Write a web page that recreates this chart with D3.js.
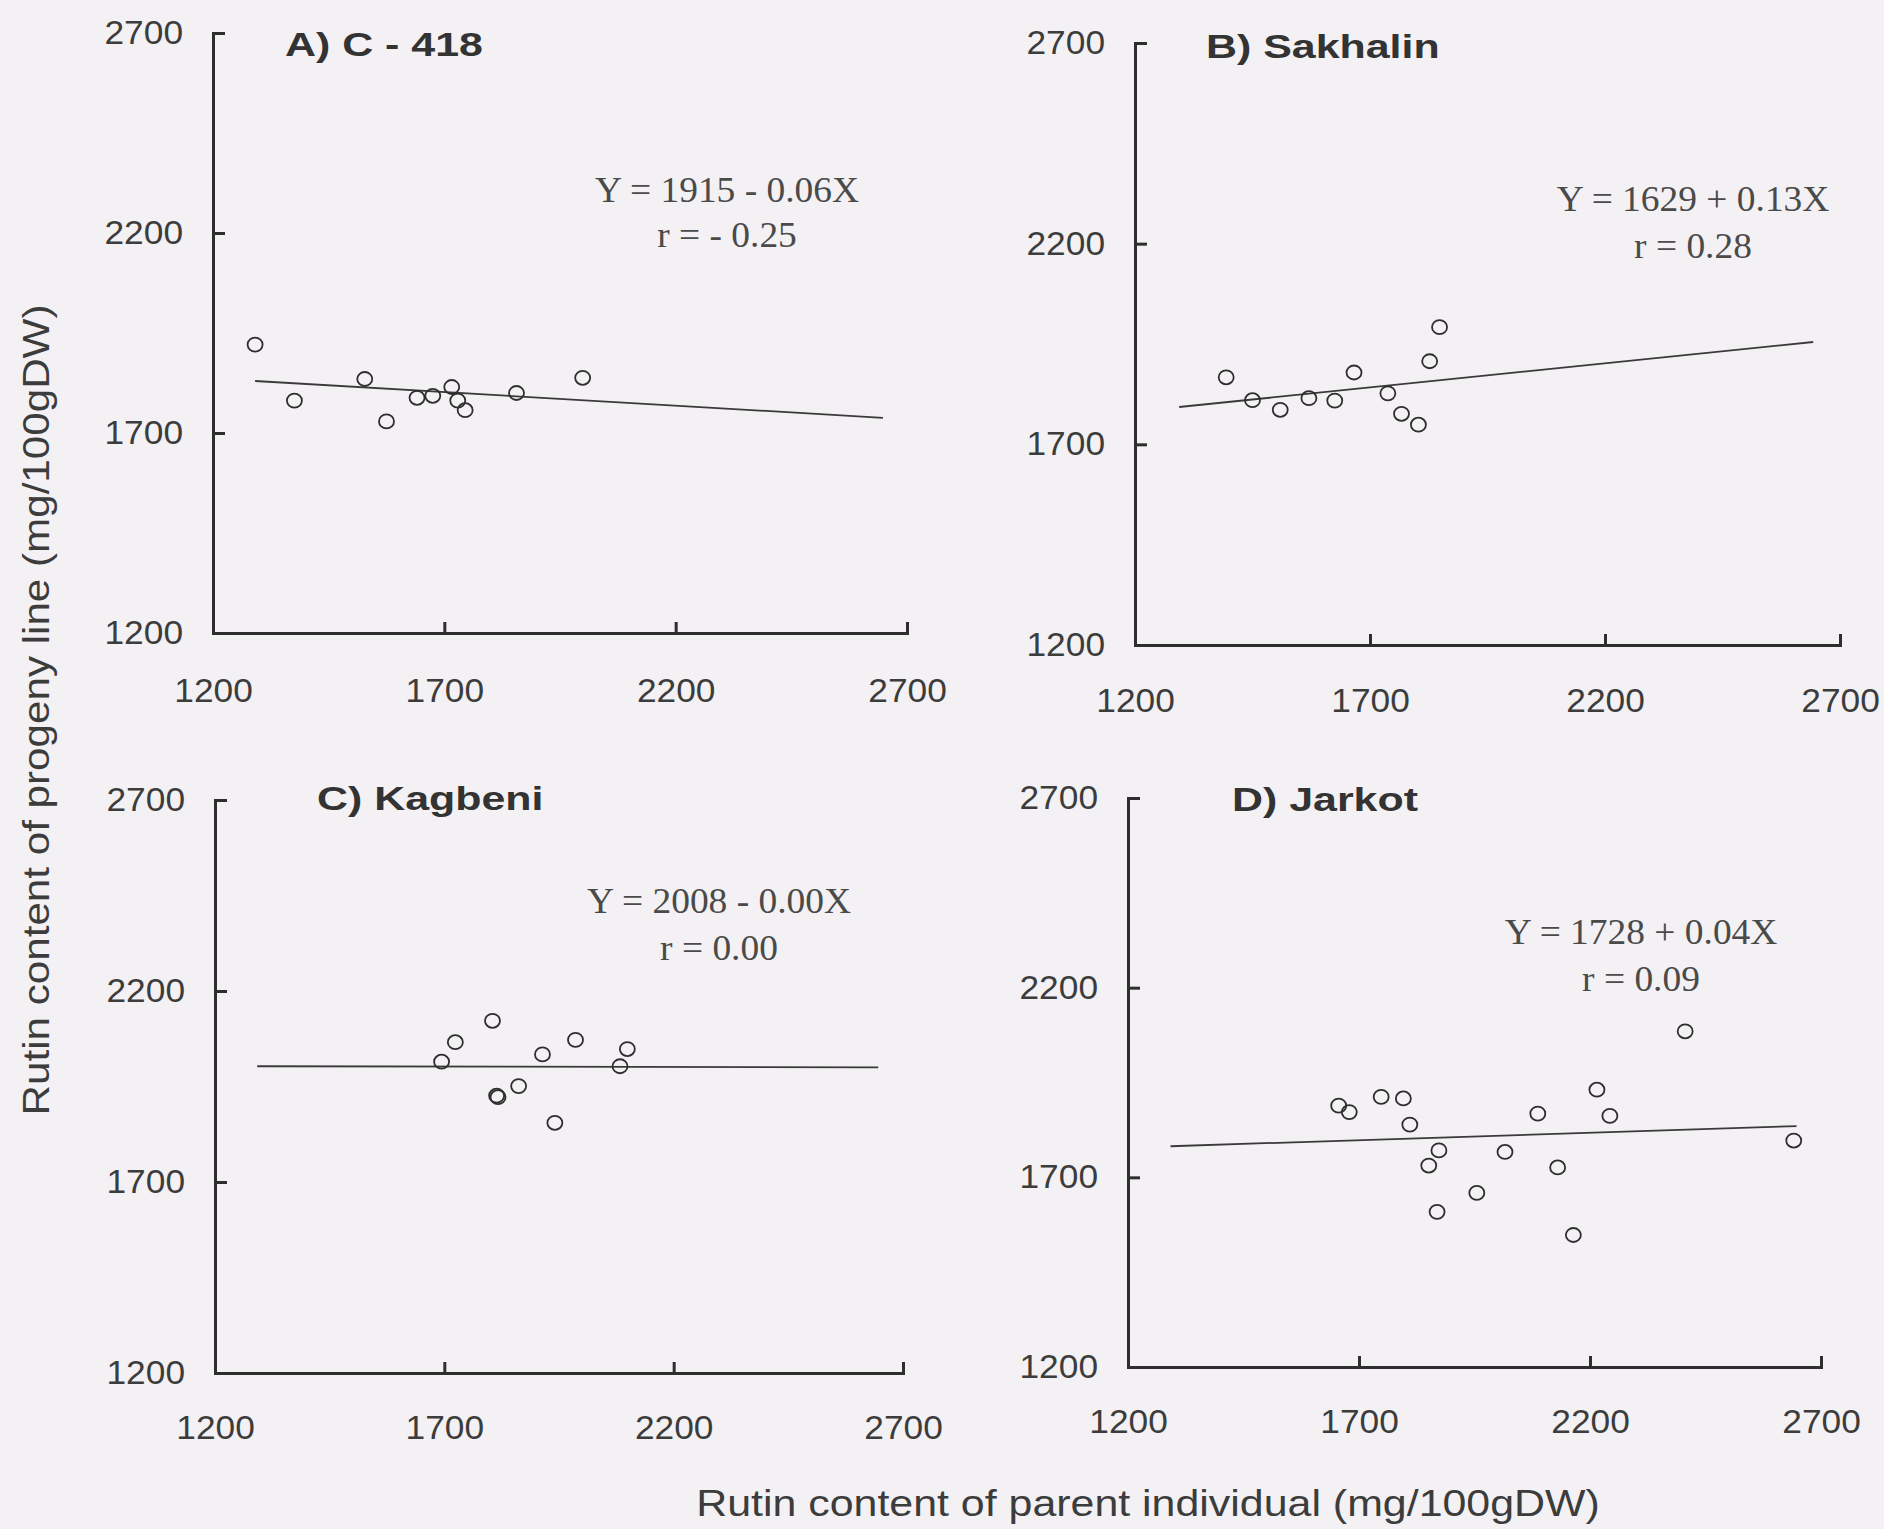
<!DOCTYPE html>
<html>
<head>
<meta charset="utf-8">
<script src="https://cdn.jsdelivr.net/npm/d3@7"></script>
<style>
  html, body { margin: 0; padding: 0; background: #f3f1f3; }
  svg { display: block; }
</style>
</head>
<body>
<svg id="chart" width="1884" height="1529"></svg>
<script>
// ---------------- DATA ----------------
const panelTitles = ["A) C - 418", "B) Sakhalin", "C) Kagbeni", "D) Jarkot"];
const xTickValues = [1200, 1700, 2200, 2700];
const yTickValues = [1200, 1700, 2200, 2700];
const xAxisTitle = "Rutin content of parent individual (mg/100gDW)";
const yAxisTitle = "Rutin content of progeny line (mg/100gDW)";

// A) C - 418
const parentA  = [1291, 1376, 1528, 1575, 1641, 1675, 1716, 1729, 1745, 1856, 1999];
const progenyA = [1921, 1781, 1835, 1729, 1788, 1793, 1815, 1781, 1757, 1800, 1838];
const fitXA = [1291, 2648];
const fitYA = [1830, 1738];
const eqA = ["Y = 1915 - 0.06X", "r = - 0.25"];

// B) Sakhalin
const parentB  = [1394, 1450, 1509, 1570, 1625, 1666, 1738, 1767, 1803, 1827, 1848];
const progenyB = [1867, 1810, 1786, 1815, 1809, 1879, 1827, 1776, 1749, 1907, 1992];
const fitXB = [1294, 2643];
const fitYB = [1793, 1955];
const eqB = ["Y = 1629 + 0.13X", "r = 0.28"];

// C) Kagbeni
const parentC  = [1694, 1724, 1805, 1814, 1817, 1862, 1914, 1941, 1986, 2083, 2099];
const progenyC = [2015, 2066, 2122, 1926, 1922, 1951, 2034, 1855, 2072, 2003, 2048];
const fitXC = [1292, 2646];
const fitYC = [2003, 2000];
const eqC = ["Y = 2008 - 0.00X", "r = 0.00"];

// D) Jarkot
const parentD  = [1656, 1679, 1748, 1796, 1810, 1851, 1873, 1869, 1955, 2016, 2087, 2130, 2164, 2215, 2243, 2406, 2641];
const progenyD = [1889, 1872, 1912, 1908, 1839, 1731, 1771, 1609, 1659, 1767, 1868, 1726, 1548, 1931, 1862, 2085, 1797];
const fitXD = [1292, 2647];
const fitYD = [1782, 1835];
const eqD = ["Y = 1728 + 0.04X", "r = 0.09"];

const panelsData = [
  {title: panelTitles[0], xs: parentA, ys: progenyA, fx: fitXA, fy: fitYA, eq: eqA},
  {title: panelTitles[1], xs: parentB, ys: progenyB, fx: fitXB, fy: fitYB, eq: eqB},
  {title: panelTitles[2], xs: parentC, ys: progenyC, fx: fitXC, fy: fitYC, eq: eqC},
  {title: panelTitles[3], xs: parentD, ys: progenyD, fx: fitXD, fy: fitYD, eq: eqD}
];

// ---------------- LAYOUT (pixels) ----------------
const layout = [
  {x0: 213,  x1: 907,  y0: 633,  y1: 33,  titleX: 285,  titleY: 56,  eqX: 727,  eqY: [202, 247], xPad: 46},
  {x0: 1135, x1: 1840, y0: 645,  y1: 43,  titleX: 1206, titleY: 58,  eqX: 1693, eqY: [211, 258], xPad: 44},
  {x0: 215,  x1: 903,  y0: 1373, y1: 800, titleX: 317,  titleY: 810, eqX: 719,  eqY: [913, 960], xPad: 43},
  {x0: 1128, x1: 1821, y0: 1367, y1: 798, titleX: 1232, titleY: 811, eqX: 1641, eqY: [944, 991], xPad: 43}
];

const INK = "#2e2e2e";
const TEXT = "#3c3c3c";
const SANS = "'Liberation Sans', Arial, Helvetica, sans-serif";
const SERIF = "'Liberation Serif', 'Times New Roman', serif";

const svg = d3.select("#chart");
svg.append("rect").attr("width", 1884).attr("height", 1529).attr("fill", "#f3f1f3");

function stretchedText(g, x, y, str, opts) {
  const t = g.append("g").attr("transform", `translate(${x},${y}) ${opts.rotate ? "rotate(" + opts.rotate + ")" : ""} scale(${opts.sx || 1},1)`);
  return t.append("text")
    .attr("x", 0).attr("y", 0)
    .attr("text-anchor", opts.anchor || "start")
    .attr("font-family", opts.family || SANS)
    .attr("font-size", opts.size)
    .attr("font-weight", opts.weight || "normal")
    .attr("fill", opts.fill || TEXT)
    .text(str);
}

panelsData.forEach((p, i) => {
  const L = layout[i];
  const x = d3.scaleLinear().domain([1200, 2700]).range([L.x0, L.x1]);
  const y = d3.scaleLinear().domain([1200, 2700]).range([L.y0, L.y1]);
  const g = svg.append("g");

  // axes
  const xAxis = d3.axisBottom(x).tickValues(xTickValues).tickFormat(d3.format("d"))
    .tickSizeInner(-11).tickSizeOuter(0).tickPadding(L.xPad);
  const yAxis = d3.axisLeft(y).tickValues(yTickValues).tickFormat(d3.format("d"))
    .tickSizeInner(-12).tickSizeOuter(0).tickPadding(30);

  const gx = g.append("g").attr("transform", `translate(0,${L.y0})`).call(xAxis);
  const gy = g.append("g").attr("transform", `translate(${L.x0},0)`).call(yAxis);

  [gx, gy].forEach(ax => {
    ax.select(".domain").attr("stroke", INK).attr("stroke-width", 3).attr("stroke-linecap", "square");
    ax.selectAll(".tick line").attr("stroke", INK).attr("stroke-width", 3);
    ax.selectAll(".tick text")
      .attr("font-family", SANS).attr("font-size", 33).attr("fill", TEXT);
  });
  gx.selectAll(".tick text").attr("transform", "scale(1.07,1)");
  gy.selectAll(".tick text").attr("transform", "scale(1.07,1)").attr("x", -30 / 1.07);

  // regression line
  const fitPts = p.fx.map((v, k) => [v, p.fy[k]]);
  g.append("path")
    .attr("d", d3.line().x(d => x(d[0])).y(d => y(d[1]))(fitPts))
    .attr("fill", "none").attr("stroke", "#3a3a3a").attr("stroke-width", 1.8);

  // points
  const pts = p.xs.map((v, k) => [v, p.ys[k]]);
  g.selectAll("ellipse.pt").data(pts).enter().append("ellipse")
    .attr("class", "pt")
    .attr("cx", d => x(d[0])).attr("cy", d => y(d[1]))
    .attr("rx", 7.5).attr("ry", 7)
    .attr("fill", "none").attr("stroke", INK).attr("stroke-width", 1.8);

  // title
  stretchedText(g, L.titleX, L.titleY, p.title, {size: 33, weight: "bold", sx: 1.3, fill: "#333"});

  // equation text
  stretchedText(g, L.eqX, L.eqY[0], p.eq[0], {size: 35, family: SERIF, anchor: "middle", sx: 1.07, fill: "#4a4a4a"});
  stretchedText(g, L.eqX, L.eqY[1], p.eq[1], {size: 35, family: SERIF, anchor: "middle", sx: 1.07, fill: "#4a4a4a"});
});

// axis titles
stretchedText(svg, 1148, 1516, xAxisTitle, {size: 37, anchor: "middle", sx: 1.16});
stretchedText(svg, 49, 710, yAxisTitle, {size: 37, anchor: "middle", sx: 1.14, rotate: -90});
</script>
</body>
</html>
